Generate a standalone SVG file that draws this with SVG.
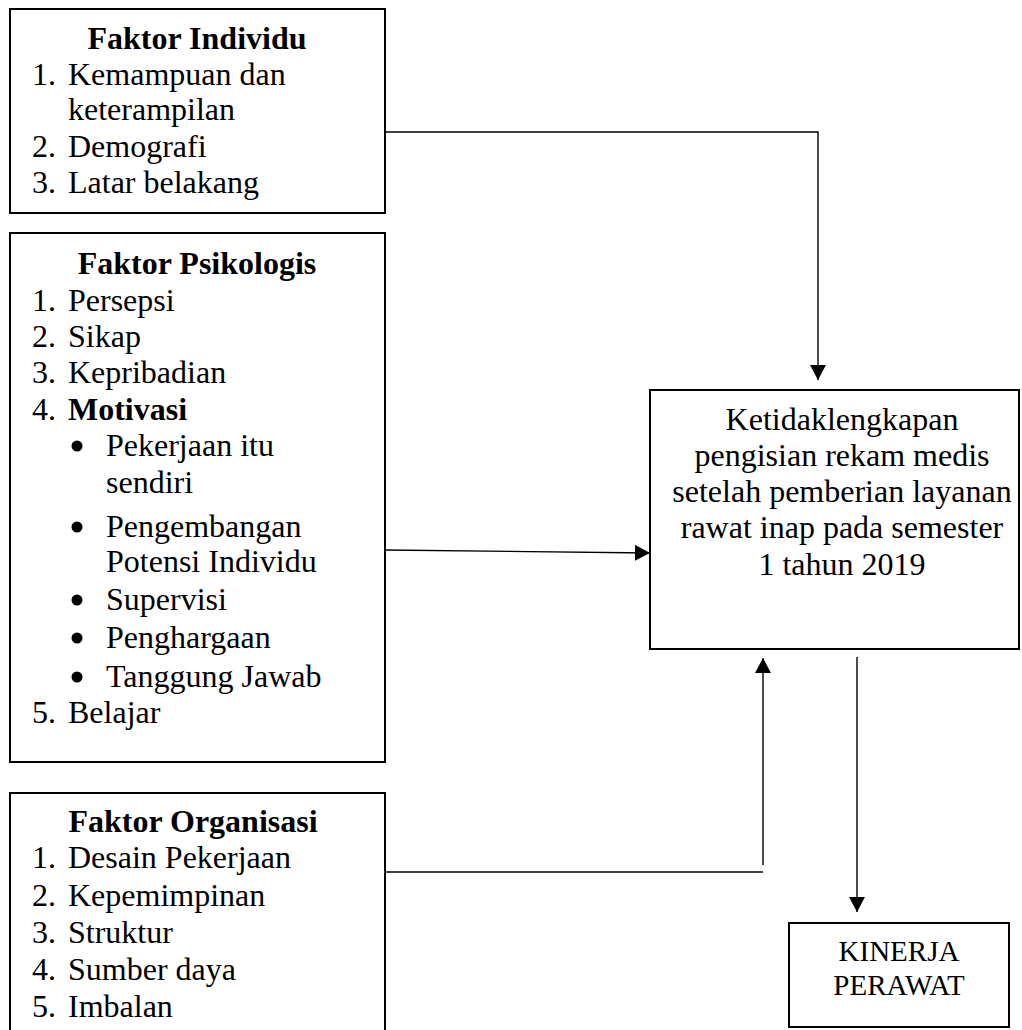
<svg xmlns="http://www.w3.org/2000/svg" width="1022" height="1030" viewBox="0 0 1022 1030">
<style>
text{font-family:"Liberation Serif","Times New Roman",serif;font-size:32px;fill:#000}
.b{font-weight:bold}
.m{text-anchor:middle}
.k{font-size:29px}
.box{fill:#fff;stroke:#000;stroke-width:2}
.con{fill:none;stroke:#000;stroke-width:1.4}
.dot{fill:#000}
</style>
<defs>
<marker id="arr" markerUnits="userSpaceOnUse" markerWidth="16" markerHeight="16" refX="15" refY="8" orient="auto">
<path d="M0,0 L15,8 L0,16 Z" fill="#000"/>
</marker>
</defs>
<rect width="1022" height="1030" fill="#fff"/>
<g id="connectors">
<polyline class="con" points="385,132 818,132 818,380" marker-end="url(#arr)"/>
<line class="con" x1="385" y1="550" x2="650" y2="553" marker-end="url(#arr)"/>
<line class="con" x1="385" y1="872" x2="763" y2="872"/>
<line class="con" x1="763" y1="865" x2="763" y2="658" marker-end="url(#arr)"/>
<line class="con" x1="857" y1="657" x2="857" y2="912" marker-end="url(#arr)"/>
</g>
<g id="faktor-individu">
<rect class="box" x="10" y="9" width="375" height="204"/>
<text class="b m" x="197" y="49">Faktor Individu</text>
<text x="32" y="85">1.</text><text x="68" y="85">Kemampuan dan</text>
<text x="68" y="120">keterampilan</text>
<text x="32" y="157">2.</text><text x="68" y="157">Demografi</text>
<text x="32" y="193">3.</text><text x="68" y="193">Latar belakang</text>
</g>
<g id="faktor-psikologis">
<rect class="box" x="10" y="233" width="375" height="529"/>
<text class="b m" x="197" y="274">Faktor Psikologis</text>
<text x="32" y="311">1.</text><text x="68" y="311">Persepsi</text>
<text x="32" y="347">2.</text><text x="68" y="347">Sikap</text>
<text x="32" y="383">3.</text><text x="68" y="383">Kepribadian</text>
<text x="32" y="420">4.</text><text class="b" x="68" y="420">Motivasi</text>
<circle class="dot" cx="77" cy="446" r="5.5"/><text x="106" y="456">Pekerjaan itu</text>
<text x="106" y="493">sendiri</text>
<circle class="dot" cx="77" cy="527" r="5.5"/><text x="106" y="537">Pengembangan</text>
<text x="106" y="572">Potensi Individu</text>
<circle class="dot" cx="77" cy="600" r="5.5"/><text x="106" y="610">Supervisi</text>
<circle class="dot" cx="77" cy="638" r="5.5"/><text x="106" y="648">Penghargaan</text>
<circle class="dot" cx="77" cy="677" r="5.5"/><text x="106" y="687">Tanggung Jawab</text>
<text x="32" y="723">5.</text><text x="68" y="723">Belajar</text>
</g>
<g id="faktor-organisasi">
<rect class="box" x="10" y="793" width="375" height="260"/>
<text class="b m" x="193" y="832">Faktor Organisasi</text>
<text x="32" y="868">1.</text><text x="68" y="868">Desain Pekerjaan</text>
<text x="32" y="906">2.</text><text x="68" y="906">Kepemimpinan</text>
<text x="32" y="943">3.</text><text x="68" y="943">Struktur</text>
<text x="32" y="980">4.</text><text x="68" y="980">Sumber daya</text>
<text x="32" y="1017">5.</text><text x="68" y="1017">Imbalan</text>
</g>
<g id="ketidaklengkapan">
<rect class="box" x="650" y="390" width="369" height="259"/>
<text class="m" x="842" y="430">Ketidaklengkapan</text>
<text class="m" x="842" y="466">pengisian rekam medis</text>
<text class="m" x="842" y="502">setelah pemberian layanan</text>
<text class="m" x="842" y="538">rawat inap pada semester</text>
<text class="m" x="842" y="575">1 tahun 2019</text>
</g>
<g id="kinerja-perawat">
<rect class="box" x="789" y="923" width="220" height="104"/>
<text class="m k" x="899" y="961">KINERJA</text>
<text class="m k" x="899" y="995">PERAWAT</text>
</g>
</svg>
